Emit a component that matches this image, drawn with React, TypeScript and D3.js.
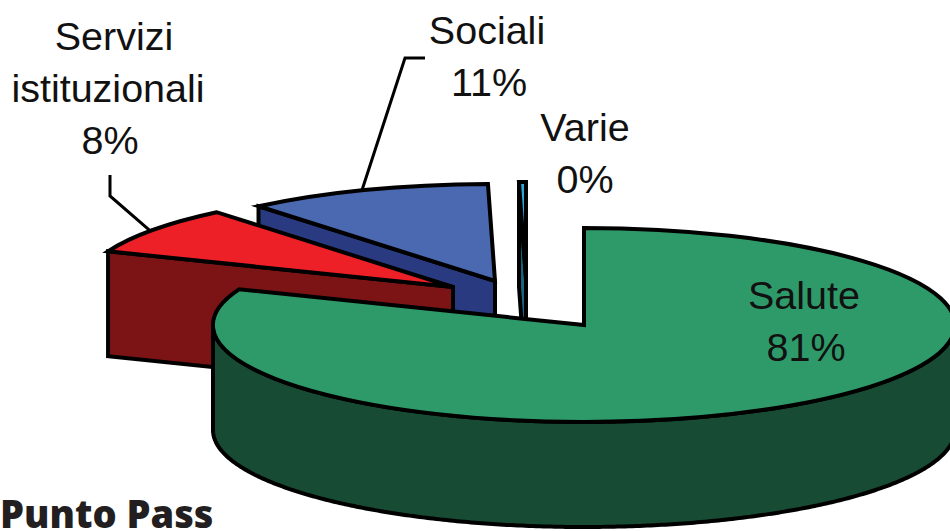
import React from "react";
import * as d3 from "d3";

// data (Varie and Sociali are rounded in the labels)
const categories = ["Salute", "Servizi istituzionali", "Sociali", "Varie"];
const values = [81, 8, 10.7, 0.3];
const percentLabels = ["81%", "8%", "11%", "0%"];

const topColors = ["#2f9a69", "#ee2027", "#4a69b0", "#2aa8d8"];
const sideColors = ["#184b33", "#7c1416", "#2a3a80", "#17657e"];

// apex of every exploded slice
const apexes: [number, number][] = [
  [584, 325],
  [453, 287],
  [495, 281],
  [526, 279],
];
const labelLines = [["Salute"], ["Servizi", "istituzionali"], ["Sociali"], ["Varie"]];
const labelPos: [number, number][] = [
  [804, 309],
  [108, 50],
  [487, 44],
  [585, 141],
];
// the lines of a label are not quite centred on each other in the picture
const lineNudge = [
  [0, 2],
  [6, 0, 2],
  [0, 2],
  [0, 0],
];
const leaderBends: ([number, number][] | null)[] = [
  null,
  [
    [110, 196],
    [110, 175],
  ],
  [
    [405, 58],
    [425, 58],
  ],
  null,
];

const W = 950;
const H = 531;
const RX = 371;
const RY = 97;
const DEPTH = 105;
const FONT = "'Liberation Sans', Arial, sans-serif";

const pieData = d3
  .pie<number>()
  .sort(null)
  .startAngle(0)
  .endAngle(2 * Math.PI)(values);

const arcTop = d3.arc<d3.PieArcDatum<number>>().innerRadius(0).outerRadius(1);
const line = d3.line();

// point on the rim of a slice, angle clockwise from the top
function rim(i: number, angle: number, drop = 0): [number, number] {
  const [ax, ay] = apexes[i];
  return [ax + Math.sin(angle) * RX, ay - Math.cos(angle) * RY + drop];
}

function cutFace(i: number, angle: number) {
  const [ax, ay] = apexes[i];
  const pts: [number, number][] = [
    [ax, ay],
    rim(i, angle),
    rim(i, angle, DEPTH),
    [ax, ay + DEPTH],
  ];
  return line(pts) + "Z";
}

// only the front half of the rim shows a wall
function outerWall(i: number, start: number, end: number) {
  const a0 = Math.max(start, Math.PI / 2);
  const a1 = Math.min(end, (3 * Math.PI) / 2);
  if (a1 <= a0) return null;
  const angles = d3.range(a0, a1, 0.01).concat(a1);
  const upper = angles.map((a) => rim(i, a));
  const lower = angles
    .slice()
    .reverse()
    .map((a) => rim(i, a, DEPTH));
  return line(upper.concat(lower)) + "Z";
}

const drawOrder = [2, 1, 3, 0];

export default function App() {
  return (
    <svg
      width={W}
      height={H}
      viewBox={`0 0 ${W} ${H}`}
      style={{ position: "fixed", left: 0, top: 0, background: "#fff" }}
    >
      {drawOrder.map((i) => {
        const d = pieData[i];
        const wall = outerWall(i, d.startAngle, d.endAngle);
        return (
          <g key={categories[i]} stroke="#000" strokeWidth={4} strokeLinejoin="miter">
            <path d={cutFace(i, d.startAngle)} fill={sideColors[i]} />
            {wall && <path d={wall} fill={sideColors[i]} />}
            <path
              d={arcTop(d) as string}
              fill={topColors[i]}
              transform={`translate(${apexes[i][0]},${apexes[i][1]}) scale(${RX},${RY})`}
              vectorEffect="non-scaling-stroke"
            />
          </g>
        );
      })}

      {pieData.map((d, i) => {
        const bends = leaderBends[i];
        if (!bends) return null;
        const mid = (d.startAngle + d.endAngle) / 2 - 0.012;
        const pts = [rim(i, mid), ...bends];
        return <path key={i} d={line(pts) as string} fill="none" stroke="#000" strokeWidth={3} />;
      })}

      {categories.map((c, i) => (
        <text key={c} x={labelPos[i][0]} y={labelPos[i][1]} textAnchor="middle" fontFamily={FONT} fontSize={39.5} fill="#111">
          {labelLines[i].concat(percentLabels[i]).map((t, j) => (
            <tspan key={j} x={labelPos[i][0] + lineNudge[i][j]} dy={j === 0 ? 0 : 52}>
              {t}
            </tspan>
          ))}
        </text>
      ))}

      <text x={0} y={528} fontFamily="'Open Sans', sans-serif" fontWeight={800} fontSize={38} fill="#231f20">
        Punto Pass
      </text>
    </svg>
  );
}
